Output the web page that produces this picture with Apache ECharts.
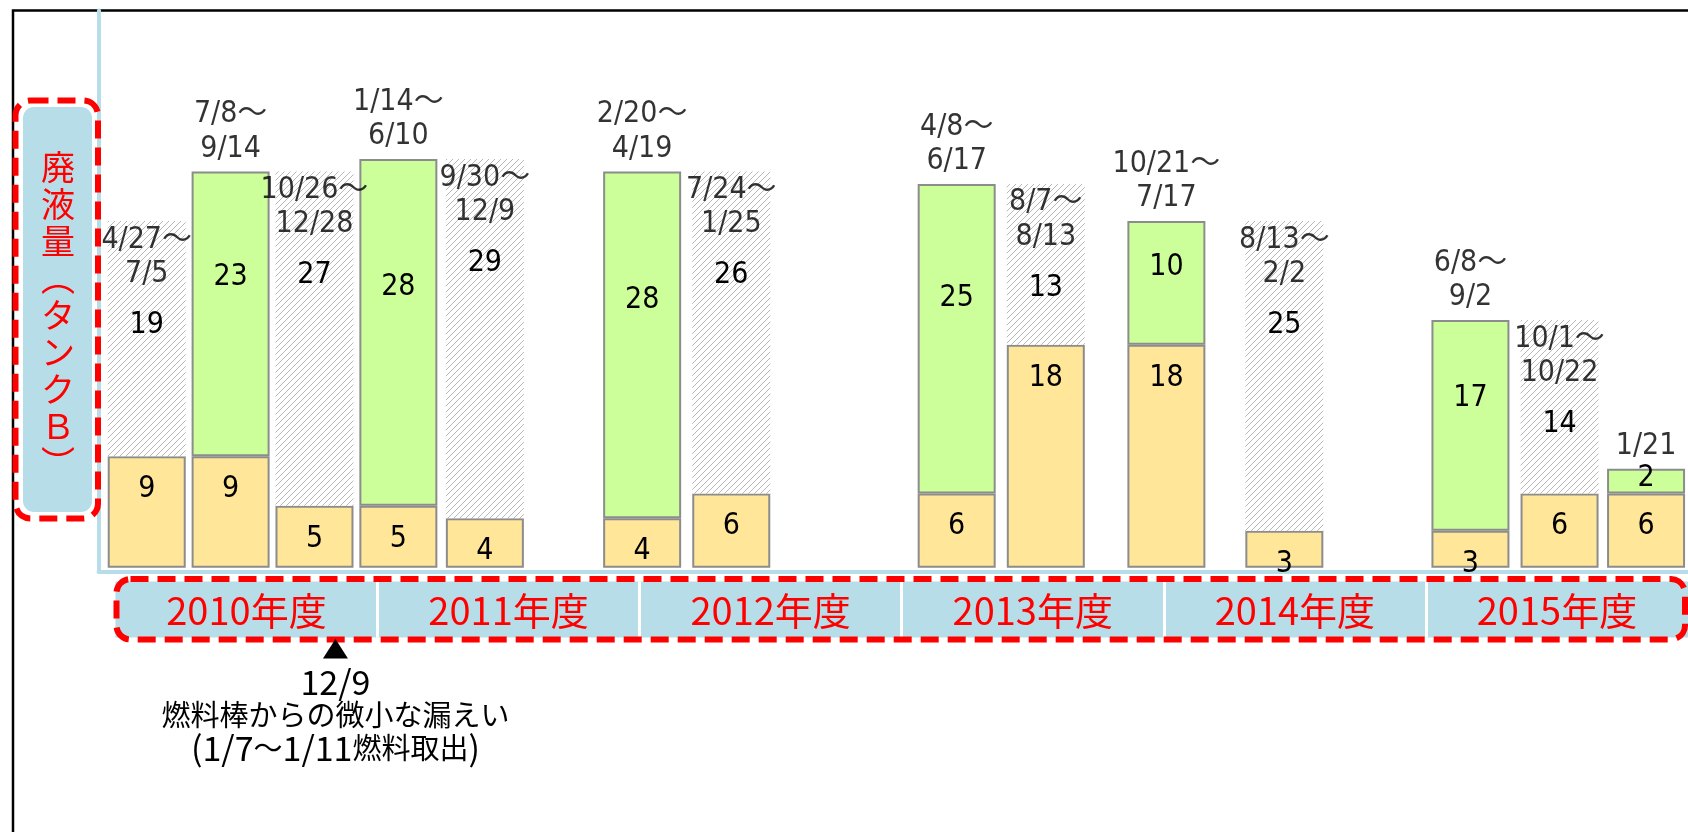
<!DOCTYPE html>
<html>
<head>
<meta charset="utf-8">
<script src="https://cdn.jsdelivr.net/npm/echarts@6/dist/echarts.min.js"></script>
<style>
  html, body { margin: 0; padding: 0; background: #fff; }
  #chart { width: 1688px; height: 832px; }
</style>
</head>
<body>
<div id="chart"></div>
<script>
// fiscal-year bands of the bottom strip
var fiscalYears = ['2010年度', '2011年度', '2012年度', '2013年度', '2014年度', '2015年度'];

// where each period sits on the fiscal-year timeline (2010 = start of FY2010)
var timelinePos = [2010.12, 2010.44, 2010.76, 2011.08, 2011.41, 2012.01, 2012.35,
  2013.21, 2013.55, 2014.01, 2014.46, 2015.17, 2015.51, 2015.84];
var periodStart = ['4/27～', '7/8～', '10/26～', '1/14～', '9/30～', '2/20～', '7/24～',
  '4/8～', '8/7～', '10/21～', '8/13～', '6/8～', '10/1～', '1/21'];
var periodEnd = ['7/5', '9/14', '12/28', '6/10', '12/9', '4/19', '1/25',
  '6/17', '8/13', '7/17', '2/2', '9/2', '10/22', ''];
// 'solid' = green bar, 'hatch' = hatched bar
var periodKind = ['hatch', 'solid', 'hatch', 'solid', 'hatch', 'solid', 'hatch',
  'solid', 'hatch', 'solid', 'hatch', 'solid', 'hatch', 'solid'];
var startVolume = [9, 9, 5, 5, 4, 4, 6, 6, 18, 18, 3, 3, 6, 6];
var addedVolume = [19, 23, 27, 28, 29, 28, 26, 25, 13, 10, 25, 17, 14, 2];

var leakPos = 2010.84;
var leakNote = ['12/9', '燃料棒からの微小な漏えい', '(1/7～1/11燃料取出)'];
var axisTitle = ['廃', '液', '量', '︵', 'タ', 'ン', 'ク', 'Ｂ', '︶'];

var NUM_FONT = '"DejaVu Sans Condensed", "DejaVu Sans", "Noto Sans CJK JP", sans-serif';
var JP_FONT = '"Noto Sans CJK JP", sans-serif';
var BLUE = '#B7DEE8';
var RED = '#FF0000';
var EDGE = '#8C8C8C';

function hatchPattern() {
  var c = document.createElement('canvas');
  c.width = 6;
  c.height = 6;
  var g = c.getContext('2d');
  g.fillStyle = '#ffffff';
  g.fillRect(0, 0, 6, 6);
  g.strokeStyle = '#b8b8b8';
  g.lineWidth = 1;
  g.beginPath();
  g.moveTo(0, 6); g.lineTo(6, 0);
  g.moveTo(-1, 1); g.lineTo(1, -1);
  g.moveTo(5, 7); g.lineTo(7, 5);
  g.stroke();
  return c;
}
var hatchFill = { image: hatchPattern(), repeat: 'repeat' };

// half-width runs a bit larger than the kanji, like the narrow gothic of the original
function noteRich(line) {
  return line.replace(/[\x20-\x7e]+|[^\x20-\x7e]+/g, function (run) {
    return /^[\x20-\x7e]/.test(run) ? '{a|' + run + '}' : '{j|' + run + '}';
  });
}

var numLabel = {
  show: true,
  color: '#000',
  fontFamily: NUM_FONT,
  fontSize: 30,
  lineHeight: 34.4
};

// volume first, timeline position second: the first numeric column is the one that gets stacked
var baseData = timelinePos.map(function (x, i) {
  return [startVolume[i], x];
});

var upperData = timelinePos.map(function (x, i) {
  var hatch = periodKind[i] === 'hatch';
  return {
    value: [addedVolume[i], x],
    itemStyle: hatch
      ? { color: hatchFill, borderWidth: 0 }
      : { color: '#CCFF99', borderColor: EDGE, borderWidth: 2 },
    label: hatch
      ? { position: 'insideTop', distance: 87 }
      : { position: ['50%', '37%'], align: 'center', verticalAlign: 'middle' }
  };
});

var dateData = timelinePos.map(function (x, i) {
  var hatch = periodKind[i] === 'hatch';
  return {
    value: [x, startVolume[i] + addedVolume[i]],
    dateText: periodEnd[i] ? periodStart[i] + '\n' + periodEnd[i] : periodStart[i],
    label: hatch ? { position: 'bottom', distance: 1 } : { position: 'top', distance: 5 }
  };
});

var chart = echarts.init(document.getElementById('chart'));

var option = {
  animation: false,
  backgroundColor: '#fff',
  textStyle: { fontFamily: JP_FONT },
  grid: [
    { left: 98.5, top: 10.5, width: 1599.5, height: 561 },
    { left: 115.4, top: 581.5, width: 1582.6, height: 56, show: true,
      backgroundColor: BLUE, borderWidth: 0 }
  ],
  xAxis: [
    {
      gridIndex: 0,
      type: 'value',
      min: 2010 - 0.064,
      max: 2016,
      axisLine: { show: true, onZero: false, lineStyle: { color: BLUE, width: 4 } },
      axisTick: { show: false },
      axisLabel: { show: false },
      splitLine: { show: false }
    },
    {
      gridIndex: 1,
      type: 'category',
      data: fiscalYears,
      boundaryGap: true,
      axisLine: { show: false },
      axisTick: { show: false },
      axisLabel: { inside: true, margin: 8, color: RED, fontSize: 38, fontFamily: JP_FONT },
      splitLine: {
        show: true,
        showMinLine: false,
        showMaxLine: false,
        lineStyle: { color: '#ffffff', width: 3 }
      }
    }
  ],
  yAxis: [
    {
      gridIndex: 0,
      type: 'value',
      min: -0.3,
      max: 45,
      axisLine: { show: true, onZero: false, lineStyle: { color: BLUE, width: 4 } },
      axisTick: { show: false },
      axisLabel: { show: false },
      splitLine: { show: false }
    },
    { gridIndex: 1, type: 'value', show: false }
  ],
  series: [
    {
      name: 'start',
      type: 'bar',
      stack: 'vol',
      barWidth: 78,
      encode: { x: 1, y: 0 },
      data: baseData,
      itemStyle: { color: '#FFE699', borderColor: EDGE, borderWidth: 2 },
      label: Object.assign({}, numLabel, {
        position: 'insideTop',
        distance: 16,
        formatter: function (p) { return p.value[0]; }
      })
    },
    {
      name: 'added',
      type: 'bar',
      stack: 'vol',
      barWidth: 78,
      encode: { x: 1, y: 0 },
      data: upperData,
      label: Object.assign({}, numLabel, {
        formatter: function (p) { return p.value[0]; }
      })
    },
    {
      name: 'dates',
      type: 'scatter',
      symbolSize: 1,
      itemStyle: { color: 'rgba(0,0,0,0)' },
      silent: true,
      data: dateData,
      label: Object.assign({}, numLabel, {
        formatter: function (p) { return p.data.dateText; }
      }),
      z: 5
    }
  ],
  graphic: [
    {
      id: 'frame', type: 'rect', z: 0,
      shape: { x: 13, y: 10.5, width: 1800, height: 900 },
      style: { fill: 'transparent', stroke: '#000', lineWidth: 2.5 }
    },
    {
      id: 'titleFill', type: 'rect', z: 90,
      shape: { x: 23, y: 107, width: 69, height: 405, r: 11 },
      style: { fill: BLUE }
    },
    {
      id: 'titleBorder', type: 'rect', z: 91,
      shape: { x: 15.5, y: 100.5, width: 82.5, height: 418, r: 15 },
      style: { fill: 'transparent', stroke: RED, lineWidth: 6, lineDash: [18, 9] }
    },
    {
      id: 'titleText', type: 'text', z: 92,
      style: {
        text: axisTitle.join('\n'),
        x: 58, y: 148.5,
        align: 'center', verticalAlign: 'top',
        fontFamily: JP_FONT, fontSize: 34, lineHeight: 37,
        fill: RED
      }
    },
    {
      id: 'stripBorder', type: 'rect', z: 100,
      shape: { x: 116.5, y: 579, width: 1568.5, height: 60.5, r: 14 },
      style: { fill: 'transparent', stroke: RED, lineWidth: 6, lineDash: [18, 9] }
    }
  ]
};

chart.setOption(option);

// note under the strip, pinned to its date on the timeline axis
var leakX = chart.convertToPixel({ xAxisIndex: 0 }, leakPos);
chart.setOption({
  graphic: [
    {
      id: 'leakMark', type: 'polygon', z: 101,
      shape: { points: [[leakX, 639], [leakX - 12.5, 658.5], [leakX + 12.5, 658.5]] },
      style: { fill: '#000' }
    },
    {
      id: 'leakText', type: 'text', z: 101,
      style: {
        text: leakNote.map(noteRich).join('\n'),
        x: leakX, y: 665.5,
        align: 'center', verticalAlign: 'top',
        fill: '#000',
        rich: {
          a: { fontFamily: JP_FONT, fontSize: 34, lineHeight: 33, fill: '#000' },
          j: { fontFamily: JP_FONT, fontSize: 29, lineHeight: 33, fill: '#000' }
        }
      }
    }
  ]
});
</script>
</body>
</html>
